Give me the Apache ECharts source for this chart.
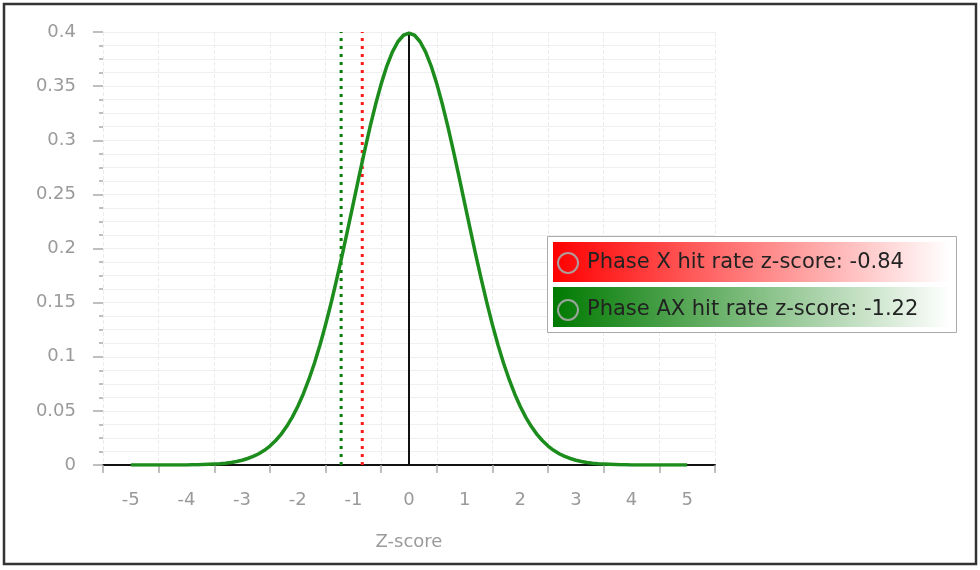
<!DOCTYPE html>
<html>
<head>
<meta charset="utf-8">
<script src="https://cdn.jsdelivr.net/npm/echarts@6/dist/echarts.min.js"></script>
<style>
html,body{margin:0;padding:0;background:#fff;}
#chart{width:980px;height:570px;}
</style>
</head>
<body>
<div id="chart"></div>
<script>
// Normal density curve (z from -5 to 5, step 0.1)
const zStart = -5;
const zStep = 0.1;
const densityValues = [
  0,0,0,0,0,0,0,0,0,0,
  0.0001,0.0002,0.0003,0.0004,0.0006,0.0009,0.0012,0.0017,0.0024,0.0033,
  0.0044,0.0060,0.0079,0.0104,0.0136,0.0175,0.0224,0.0283,0.0355,0.0440,
  0.0540,0.0656,0.0790,0.0940,0.1109,0.1295,0.1497,0.1714,0.1942,0.2179,
  0.2420,0.2661,0.2897,0.3123,0.3332,0.3521,0.3683,0.3814,0.3910,0.3970,
  0.3989,
  0.3970,0.3910,0.3814,0.3683,0.3521,0.3332,0.3123,0.2897,0.2661,0.2420,
  0.2179,0.1942,0.1714,0.1497,0.1295,0.1109,0.0940,0.0790,0.0656,0.0540,
  0.0440,0.0355,0.0283,0.0224,0.0175,0.0136,0.0104,0.0079,0.0060,0.0044,
  0.0033,0.0024,0.0017,0.0012,0.0009,0.0006,0.0004,0.0003,0.0002,0.0001,
  0,0,0,0,0,0,0,0,0,0
];
// Marker lines
const markerNames = ['Phase X hit rate z-score: -0.84', 'Phase AX hit rate z-score: -1.22'];
const markerZ = [-0.84, -1.22];
const markerColors = ['#ff1a1a', '#0a7d0a'];
const markerTop = 0.4;
const meanZ = 0;
const meanTop = 0.399;
// Axis ticks / labels
const xLabelValues = [-5,-4,-3,-2,-1,0,1,2,3,4,5];
const xTickValues = [-5.5,-4.5,-3.5,-2.5,-1.5,-0.5,0.5,1.5,2.5,3.5,4.5,5.5];
const xAxisName = 'Z-score';

const chart = echarts.init(document.getElementById('chart'), null, {renderer: 'canvas'});
const font = 'DejaVu Sans';

const curveData = densityValues.map((v, i) => [+(zStart + i * zStep).toFixed(2), v]);

const series = [
  {
    name: 'curve', type: 'line', data: curveData, smooth: false, symbol: 'none',
    lineStyle: {color: '#1c8c1c', width: 3.5, join: 'round'}, z: 3
  },
  {
    name: 'mean', type: 'line', data: [[meanZ, 0], [meanZ, meanTop]], symbol: 'none',
    lineStyle: {color: '#111', width: 2}, z: 2
  }
];
markerNames.forEach((n, i) => {
  series.push({
    name: n, type: 'line', data: [[markerZ[i], 0], [markerZ[i], markerTop]], symbol: 'none',
    color: markerColors[i],
    lineStyle: {color: markerColors[i], width: 3, type: [3, 5]}, z: 2
  });
});

const option = {
  animation: false,
  backgroundColor: '#fff',
  grid: {left: 103, right: 265, top: 32, bottom: 105, containLabel: false},
  xAxis: {
    type: 'value', min: -5.5, max: 5.5, interval: 1,
    name: xAxisName, nameLocation: 'middle', nameGap: 68,
    nameTextStyle: {color: '#9a9a9a', fontFamily: font, fontSize: 18},
    axisLine: {show: true, onZero: false, lineStyle: {color: '#111', width: 2}},
    axisTick: {show: true, length: 8, customValues: xTickValues, lineStyle: {color: '#aaa', width: 1.5}},
    axisLabel: {customValues: xLabelValues, color: '#9a9a9a', fontFamily: font, fontSize: 18, margin: 26},
    splitLine: {show: true, lineStyle: {color: '#ececec', type: 'dashed', width: 1}}
  },
  yAxis: {
    type: 'value', min: 0, max: 0.4, interval: 0.05,
    axisLine: {show: false, onZero: false},
    axisTick: {show: true, length: 10, inside: false, lineStyle: {color: '#aaa', width: 1.5}},
    minorTick: {show: true, splitNumber: 4, length: 4, lineStyle: {color: '#aaa', width: 1.5}},
    axisLabel: {color: '#9a9a9a', fontFamily: font, fontSize: 18, margin: 27},
    splitLine: {show: true, lineStyle: {color: '#f0f0f0', width: 1}},
    minorSplitLine: {show: true, lineStyle: {color: '#f0f0f0', width: 1}}
  },
  legend: {
    orient: 'vertical', left: 557, top: 252, padding: 0, itemGap: 25,
    itemWidth: 20, itemHeight: 20, selectedMode: false,
    data: markerNames.map(n => ({
      name: n, icon: 'circle',
      itemStyle: {color: 'rgba(0,0,0,0)', borderColor: 'rgba(170,170,170,0.9)', borderWidth: 2}
    })),
    textStyle: {color: '#222', fontFamily: font, fontSize: 21, padding: [0, 0, 0, 4]},
    z: 10
  },
  graphic: [
    {type: 'rect', shape: {x: 4, y: 4, width: 972, height: 560}, style: {fill: 'none', stroke: '#333', lineWidth: 2.5}, z: 100, silent: true},
    {type: 'rect', shape: {x: 547.5, y: 236.5, width: 409, height: 96}, style: {fill: '#fff', stroke: '#aaa', lineWidth: 1}, z: 1, silent: true},
    {type: 'rect', shape: {x: 553, y: 242, width: 397, height: 40},
     style: {fill: new echarts.graphic.LinearGradient(0, 0, 1, 0, [{offset: 0, color: '#ff0000'}, {offset: 1, color: '#ffffff'}])}, z: 2, silent: true},
    {type: 'rect', shape: {x: 553, y: 287, width: 397, height: 40},
     style: {fill: new echarts.graphic.LinearGradient(0, 0, 1, 0, [{offset: 0, color: '#007a00'}, {offset: 1, color: '#ffffff'}])}, z: 2, silent: true}
  ],
  series: series
};
chart.setOption(option);
</script>
</body>
</html>
